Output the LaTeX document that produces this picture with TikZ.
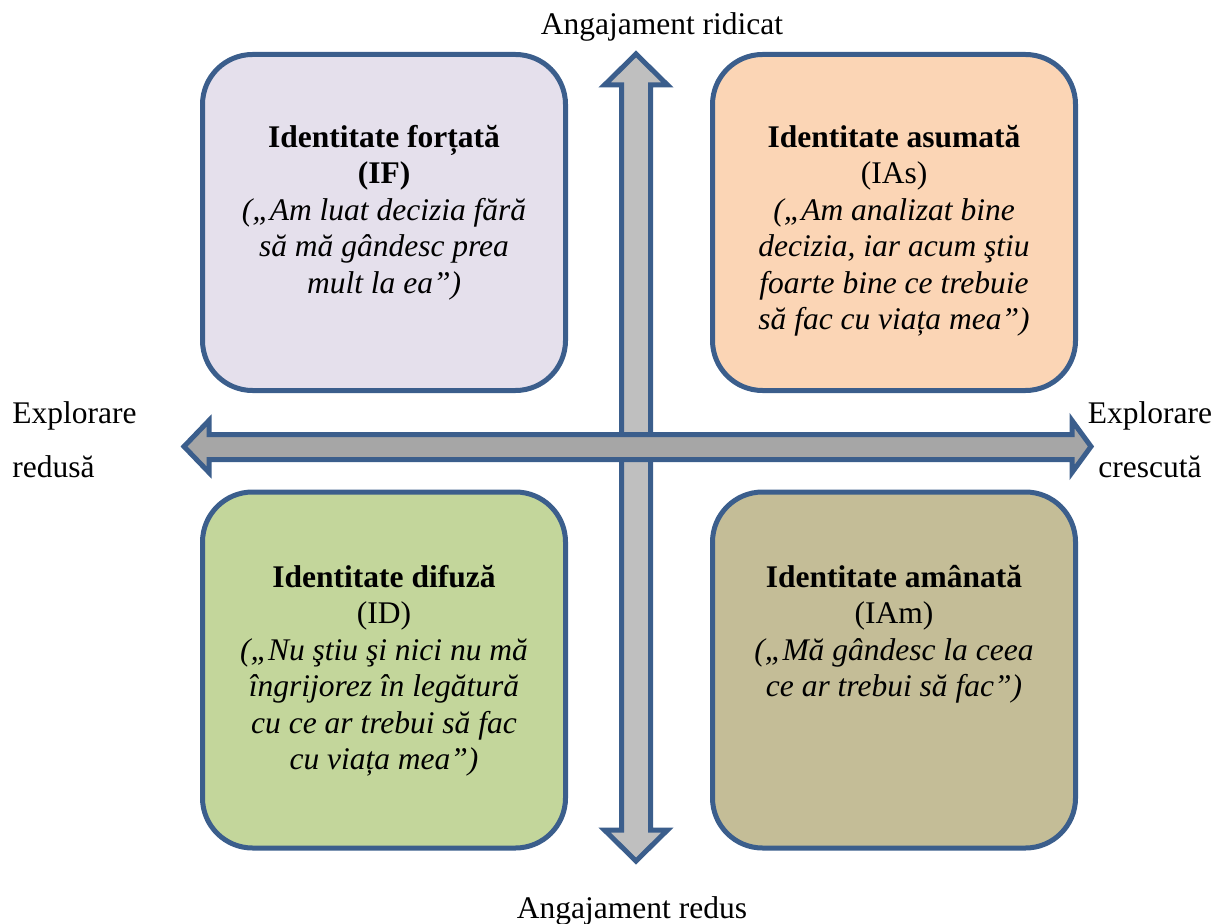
\documentclass[tikz,border=0pt]{standalone}
\usepackage{fontspec}
\setmainfont{Liberation Serif}
\definecolor{edgeblue}{RGB}{59,94,140}
\definecolor{lavender}{RGB}{229,224,236}
\definecolor{peach}{RGB}{251,213,181}
\definecolor{sage}{RGB}{195,214,155}
\definecolor{khaki}{RGB}{196,189,151}
\definecolor{lightgrey}{RGB}{191,191,191}
\definecolor{midgrey}{RGB}{166,166,166}
\tikzset{
  quadbox/.style={draw=edgeblue, line width=2.5pt, rounded corners=25pt,
    rectangle, minimum width=181.5pt, inner sep=0pt},
  quadtext/.style={anchor=north, align=center, inner sep=0pt,
    font=\fontsize{15.75pt}{18.25pt}\selectfont},
  axislabel/.style={inner sep=0pt, font=\fontsize{15.75pt}{18.25pt}\selectfont},
  blockarrow/.style={draw=edgeblue, line width=2.5pt, line join=miter}
}
\begin{document}
\begin{tikzpicture}[x=0.5pt, y=-0.5pt]
\useasboundingbox (0,0) rectangle (1218,924);

% four quadrant boxes
\node[quadbox, fill=lavender, minimum height=168pt] (if) at (384,222.5) {};
\node[quadbox, fill=peach,    minimum height=168pt] (ias) at (894,222.5) {};
\node[quadbox, fill=sage,     minimum height=178pt] (id) at (384,670) {};
\node[quadbox, fill=khaki,    minimum height=178pt] (iam) at (894,670) {};

\node[quadtext] (ift) at (384,121.5) {\strut\textbf{Identitate forțată}\\\textbf{(IF)}\\\textit{(„Am luat decizia fără}\\\textit{să mă gândesc prea}\\\textit{mult la ea”)}};
\node[quadtext] (iast) at (894,121.5) {\strut\textbf{Identitate asumată}\\(IAs)\\\textit{(„Am analizat bine}\\\textit{decizia, iar acum ştiu}\\\textit{foarte bine ce trebuie}\\\textit{să fac cu viața mea”)}};
\node[quadtext] (idt) at (384,561.5) {\strut\textbf{Identitate difuză}\\(ID)\\\textit{(„Nu ştiu şi nici nu mă}\\\textit{îngrijorez în legătură}\\\textit{cu ce ar trebui să fac}\\\textit{cu viața mea”)}};
\node[quadtext] (iamt) at (894,561.5) {\strut\textbf{Identitate amânată}\\(IAm)\\\textit{(„Mă gândesc la ceea}\\\textit{ce ar trebui să fac”)}};

% vertical axis: commitment
\draw[blockarrow, fill=lightgrey]
  (636,54) -- (667.5,85) -- (650.5,85) -- (650.5,830) -- (667.5,830)
  -- (636,861) -- (604.5,830) -- (621.5,830) -- (621.5,85) -- (604.5,85) -- cycle;

% horizontal axis: exploration
\draw[blockarrow, fill=midgrey]
  (184,446.5) -- (209,420.5) -- (209,434.5) -- (1072,434.5) -- (1072,420.5)
  -- (1091,446.5) -- (1072,472.5) -- (1072,459.5) -- (209,459.5) -- (209,472.5) -- cycle;

% axis labels
\node[axislabel, anchor=base] (up) at (662,35) {Angajament ridicat};
\node[axislabel, anchor=base] (down) at (632,918) {Angajament redus};
\node[axislabel, anchor=north west, align=left] (left) at (12,397.5) {\strut Explorare\\[8.75pt]redusă};
\node[axislabel, anchor=north, align=center] (right) at (1150,397.5) {\strut Explorare\\[8.75pt]crescută};
\end{tikzpicture}
\end{document}
